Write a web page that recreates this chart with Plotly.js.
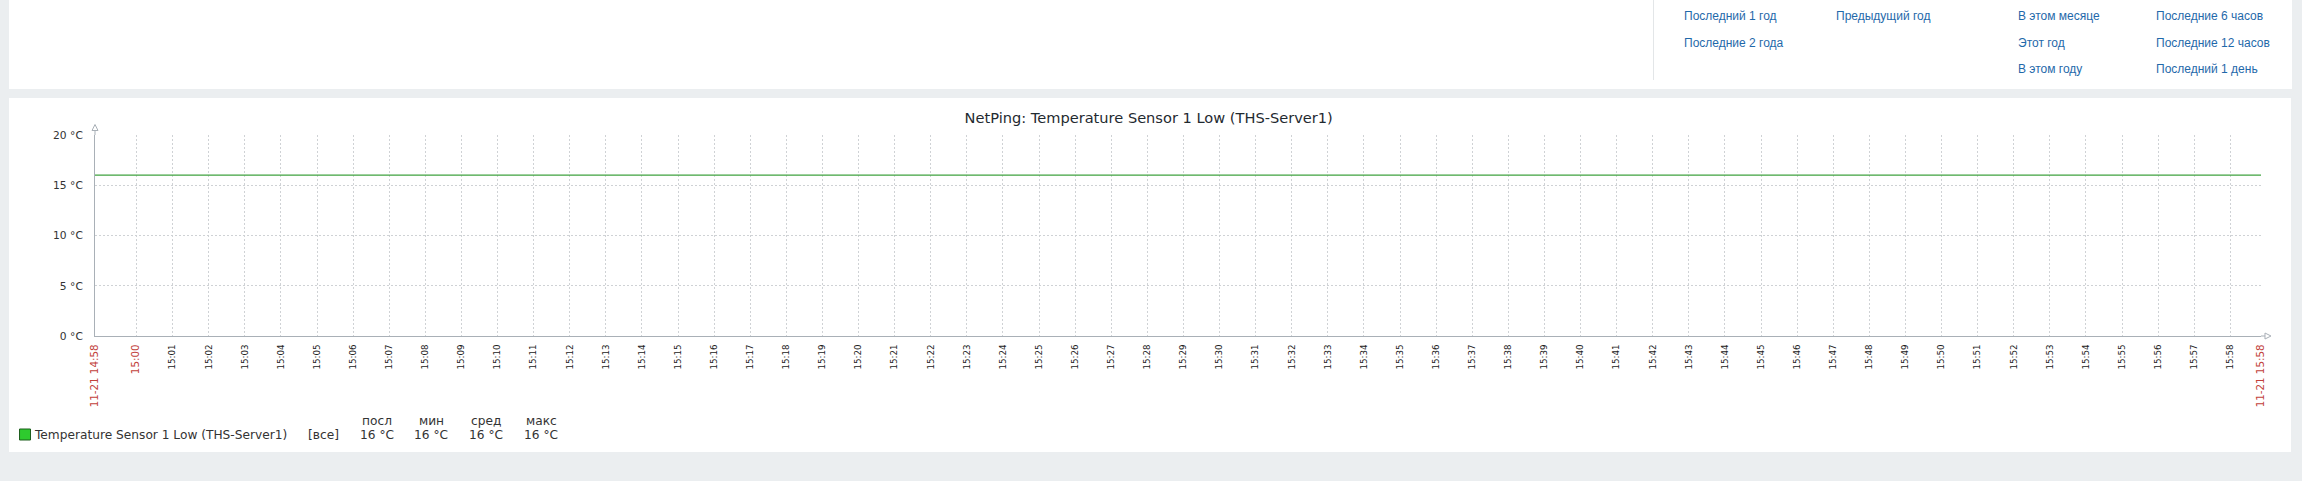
<!DOCTYPE html>
<html>
<head>
<meta charset="utf-8">
<script src="https://cdn.plot.ly/plotly-3.0.1.min.js"></script>
<style>
  body { margin: 0; background: #ebeef0; width: 2302px; height: 481px; overflow: hidden; position: relative; }
  .panel { position: absolute; background: #fff; }
  .link { position: absolute; font-family: "Liberation Sans", Arial, sans-serif; font-size: 12px; color: #1f69aa; white-space: nowrap; line-height: 14px; }
  #chart { position: absolute; left: 0; top: 0; width: 2302px; height: 481px; }
</style>
</head>
<body>
<div class="panel" style="left:9px;top:0;width:2283px;height:89px;"></div>
<div style="position:absolute;left:1653px;top:0;width:1px;height:80px;background:#e3e6e8;"></div>
<div class="panel" style="left:9px;top:98px;width:2282px;height:354px;"></div>
<div id="links"></div>
<div id="chart"></div>
<script>
// period links at the top
var linkCol1 = ['Последний 1 год', 'Последние 2 года', ''];
var linkCol2 = ['Предыдущий год', '', ''];
var linkCol3 = ['В этом месяце', 'Этот год', 'В этом году'];
var linkCol4 = ['Последние 6 часов', 'Последние 12 часов', 'Последний 1 день'];

// series
var times = ['2023-11-21 14:58:51', '2023-11-21 15:05:00', '2023-11-21 15:10:00', '2023-11-21 15:15:00',
  '2023-11-21 15:20:00', '2023-11-21 15:25:00', '2023-11-21 15:30:00', '2023-11-21 15:35:00',
  '2023-11-21 15:40:00', '2023-11-21 15:45:00', '2023-11-21 15:50:00', '2023-11-21 15:55:00',
  '2023-11-21 15:58:51'];
var temps = [16, 16, 16, 16, 16, 16, 16, 16, 16, 16, 16, 16, 16];

var seriesName = 'Temperature Sensor 1 Low (THS-Server1)';
var statHeaders = ['посл', 'мин', 'сред', 'макс'];
var statValues = ['16 °C', '16 °C', '16 °C', '16 °C'];

var yTicks = [0, 5, 10, 15, 20];
var yLabels = ['0 °C', '5 °C', '10 °C', '15 °C', '20 °C'];

var minuteLabels = ['15:00', '15:01', '15:02', '15:03', '15:04', '15:05', '15:06', '15:07', '15:08', '15:09',
  '15:10', '15:11', '15:12', '15:13', '15:14', '15:15', '15:16', '15:17', '15:18', '15:19',
  '15:20', '15:21', '15:22', '15:23', '15:24', '15:25', '15:26', '15:27', '15:28', '15:29',
  '15:30', '15:31', '15:32', '15:33', '15:34', '15:35', '15:36', '15:37', '15:38', '15:39',
  '15:40', '15:41', '15:42', '15:43', '15:44', '15:45', '15:46', '15:47', '15:48', '15:49',
  '15:50', '15:51', '15:52', '15:53', '15:54', '15:55', '15:56', '15:57', '15:58'];
var startLabel = '11-21 14:58';
var endLabel = '11-21 15:58';

// links
var cols = [linkCol1, linkCol2, linkCol3, linkCol4];
var colX = [1684, 1836, 2018, 2156];
var rowY = [9, 35.5, 62];
var html = '';
cols.forEach(function (c, i) {
  c.forEach(function (t, j) {
    if (t) html += '<div class="link" style="left:' + colX[i] + 'px;top:' + rowY[j] + 'px;">' + t + '</div>';
  });
});
document.getElementById('links').innerHTML = html;

// x ticks
var red = '#c2413b';
var tickvals = [times[0]];
var ticktext = ['<span style="color:' + red + ';font-size:10.3px">' + startLabel + '</span>'];
minuteLabels.forEach(function (m, i) {
  tickvals.push('2023-11-21 ' + m + ':00');
  if (i === 0) ticktext.push('<span style="color:' + red + ';font-size:10.3px">' + m + '</span>');
  else ticktext.push(m);
});
tickvals.push(times[times.length - 1]);
ticktext.push('<span style="color:' + red + ';font-size:10.3px">' + endLabel + '</span>');

// pixel helpers for decorations
var L = 94.5, R = 2261, T = 135, B = 336;
function px(x) { return (x - L) / (R - L); }
function py(y) { return (B - y) / (B - T); }

var axisCol = '#a9b0b7';
var font = 'DejaVu Sans, sans-serif';
var legFont = { family: font, size: 12.2, color: '#333' };

var annotations = [];
annotations.push({ xref: 'paper', yref: 'paper', x: px(31.5), y: py(435), xanchor: 'left', yanchor: 'middle',
  text: seriesName, showarrow: false, font: legFont });
annotations.push({ xref: 'paper', yref: 'paper', x: px(323), y: py(435), xanchor: 'center', yanchor: 'middle',
  text: '[все]', showarrow: false, font: legFont });
var statX = [377, 431, 486, 541];
statHeaders.forEach(function (h, i) {
  annotations.push({ xref: 'paper', yref: 'paper', x: px(statX[i]), y: py(420.5), xanchor: 'center', yanchor: 'middle',
    text: h, showarrow: false, font: legFont });
  annotations.push({ xref: 'paper', yref: 'paper', x: px(statX[i]), y: py(435), xanchor: 'center', yanchor: 'middle',
    text: statValues[i], showarrow: false, font: legFont });
});

var shapes = [
  // legend swatch
  { type: 'rect', xref: 'paper', yref: 'paper', x0: px(19), x1: px(30), y0: py(440), y1: py(429),
    fillcolor: '#2ecb2e', line: { color: '#1d5e1d', width: 1 } },
  // y axis extension + arrow
  { type: 'line', xref: 'paper', yref: 'paper', x0: px(L), x1: px(L), y0: py(135), y1: py(130.5),
    line: { color: axisCol, width: 1 } },
  { type: 'path', xref: 'paper', yref: 'paper',
    path: 'M ' + px(L) + ' ' + py(124.5) + ' L ' + px(91.5) + ' ' + py(130.5) + ' L ' + px(97.5) + ' ' + py(130.5) + ' Z',
    fillcolor: '#fff', line: { color: axisCol, width: 1 } },
  // x axis extension + arrow
  { type: 'line', xref: 'paper', yref: 'paper', x0: px(R), x1: px(2265), y0: py(B), y1: py(B),
    line: { color: axisCol, width: 1 } },
  { type: 'path', xref: 'paper', yref: 'paper',
    path: 'M ' + px(2271) + ' ' + py(B) + ' L ' + px(2265) + ' ' + py(333) + ' L ' + px(2265) + ' ' + py(339) + ' Z',
    fillcolor: '#fff', line: { color: axisCol, width: 1 } }
];

var trace = {
  x: times,
  y: temps,
  type: 'scatter',
  mode: 'lines',
  line: { color: '#3fa23f', width: 1.3 },
  hoverinfo: 'skip'
};

var layout = {
  width: 2302,
  height: 481,
  margin: { l: L, r: 2302 - R, t: T, b: 481 - B, pad: 0 },
  paper_bgcolor: 'rgba(0,0,0,0)',
  plot_bgcolor: 'rgba(0,0,0,0)',
  showlegend: false,
  font: { family: font, color: '#222' },
  title: {
    text: 'NetPing: Temperature Sensor 1 Low (THS-Server1)',
    x: 0.499, xanchor: 'center', y: 1 - 118 / 481, yanchor: 'middle',
    font: { family: font, size: 14.6, color: '#1f2a30' }
  },
  xaxis: {
    type: 'date',
    range: [times[0], times[times.length - 1]],
    tickmode: 'array',
    tickvals: tickvals,
    ticktext: ticktext,
    tickangle: -90,
    tickfont: { family: font, size: 8.7, color: '#222' },
    showgrid: true,
    gridcolor: '#cfd2d5',
    griddash: '2px,2px',
    gridwidth: 1,
    showline: true,
    linecolor: axisCol,
    linewidth: 1,
    zeroline: false,
    ticks: '',
    ticklabelstandoff: 4,
    fixedrange: true
  },
  yaxis: {
    range: [0, 20],
    tickmode: 'array',
    tickvals: yTicks,
    ticktext: yLabels,
    tickfont: { family: font, size: 10.7, color: '#333' },
    showgrid: true,
    gridcolor: '#cfd2d5',
    griddash: '2px,2px',
    gridwidth: 1,
    showline: true,
    linecolor: axisCol,
    linewidth: 1,
    zeroline: false,
    ticks: '',
    ticklabelstandoff: 9,
    fixedrange: true
  },
  shapes: shapes,
  annotations: annotations
};

Plotly.newPlot('chart', [trace], layout, { displayModeBar: false, staticPlot: true });
</script>
</body>
</html>
